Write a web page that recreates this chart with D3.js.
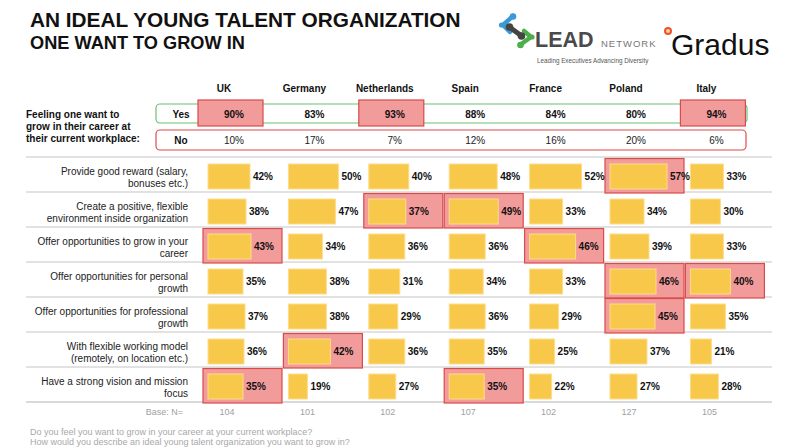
<!DOCTYPE html>
<html>
<head>
<meta charset="utf-8">
<script src="https://cdn.jsdelivr.net/npm/d3@7/dist/d3.min.js"></script>
<style>
  html, body { margin: 0; padding: 0; background: #fff; }
  svg { display: block; font-family: "Liberation Sans", Arial, Helvetica, sans-serif; }
</style>
</head>
<body>
<script>
// ---------- DATA ----------
const countries = ["UK", "Germany", "Netherlands", "Spain", "France", "Poland", "Italy"];
const yesValues = [90, 83, 93, 88, 84, 80, 94];
const noValues  = [10, 17, 7, 12, 16, 20, 6];
const yesHighlight = ["UK", "Netherlands", "Italy"];

const attributes = [
  ["Provide good reward (salary,", "bonuses etc.)"],
  ["Create a positive, flexible", "environment inside organization"],
  ["Offer opportunities to grow in your", "career"],
  ["Offer opportunities for personal", "growth"],
  ["Offer opportunities for professional", "growth"],
  ["With flexible working model", "(remotely, on location etc.)"],
  ["Have a strong vision and mission", "focus"]
];
// values per attribute row, in country order
const rewardValues       = [42, 50, 40, 48, 52, 57, 33];
const environmentValues  = [38, 47, 37, 49, 33, 34, 30];
const careerValues       = [43, 34, 36, 36, 46, 39, 33];
const personalValues     = [35, 38, 31, 34, 33, 46, 40];
const professionalValues = [37, 38, 29, 36, 29, 45, 35];
const flexibleValues     = [36, 42, 36, 35, 25, 37, 21];
const visionValues       = [35, 19, 27, 35, 22, 27, 28];
const rowValues = [rewardValues, environmentValues, careerValues, personalValues,
                   professionalValues, flexibleValues, visionValues];
// highlighted cells: [row index, country]
const highlights = [[0, "Poland"], [1, "Netherlands"], [1, "Spain"], [2, "UK"], [2, "France"],
                    [3, "Poland"], [3, "Italy"], [4, "Poland"], [5, "Germany"], [6, "UK"], [6, "Spain"]];
const baseN = [104, 101, 102, 107, 102, 127, 105];

// ---------- SETUP ----------
const W = 800, H = 448;
const svg = d3.select("body").append("svg").attr("width", W).attr("height", H);

const col = d3.scaleBand().domain(countries).range([203, 765.8]);
const row = d3.scaleBand().domain(d3.range(attributes.length)).range([157, 402]);
const len = d3.scaleLinear().domain([0, 100]).range([0, 100]);

const YELLOW = "#F8C84A", YELLOW_EDGE = "#FCDD8E";
const HL_FILL = "#F29B9B", HL_EDGE = "#D84A4C";

// ---------- TITLE ----------
svg.append("text").attr("x", 30).attr("y", 27).attr("font-size", 20.8).attr("font-weight", "bold")
  .attr("fill", "#111").text("AN IDEAL YOUNG TALENT ORGANIZATION");
svg.append("text").attr("x", 30).attr("y", 49).attr("font-size", 18.2).attr("font-weight", "bold")
  .attr("fill", "#111").text("ONE WANT TO GROW IN");

// ---------- LOGOS ----------
const logo = svg.append("g");
function arm(d, color) {
  logo.append("path").attr("d", d).attr("fill", "none")
    .attr("stroke", color).attr("stroke-width", 4.5).attr("stroke-linecap", "round").attr("stroke-linejoin", "round");
}
arm("M513,16 L503,25 L510,32", "#3A9AD9");
logo.append("circle").attr("cx", 513).attr("cy", 16.5).attr("r", 3.3).attr("fill", "#3A9AD9");
logo.append("circle").attr("cx", 501.5).attr("cy", 25).attr("r", 2.6).attr("fill", "#3A9AD9");
arm("M524,31 L531,37 L520,45", "#4BB04A");
logo.append("circle").attr("cx", 520.5).attr("cy", 45).attr("r", 3.3).attr("fill", "#4BB04A");
logo.append("circle").attr("cx", 532).attr("cy", 37).attr("r", 2.6).attr("fill", "#4BB04A");
logo.append("line").attr("x1", 510).attr("y1", 27.5).attr("x2", 521).attr("y2", 35.5)
  .attr("stroke", "#444").attr("stroke-width", 5).attr("stroke-linecap", "round");
logo.append("circle").attr("cx", 509.5).attr("cy", 27).attr("r", 3.8).attr("fill", "#444");
logo.append("circle").attr("cx", 521.5).attr("cy", 36).attr("r", 3.8).attr("fill", "#444");
logo.append("text").attr("x", 535).attr("y", 47).attr("font-size", 21.5).attr("font-weight", "bold")
  .attr("fill", "#4a4a4a").text("LEAD");
logo.append("text").attr("x", 601).attr("y", 47).attr("font-size", 9.5).attr("letter-spacing", 1)
  .attr("fill", "#777").text("NETWORK");
logo.append("text").attr("x", 537).attr("y", 63).attr("font-size", 6.3)
  .attr("fill", "#555").text("Leading Executives Advancing Diversity");
logo.append("circle").attr("cx", 668).attr("cy", 31).attr("r", 3)
  .attr("fill", "#FBD0A0").attr("stroke", "#F0502A").attr("stroke-width", 2);
logo.append("text").attr("x", 671).attr("y", 55).attr("font-size", 30)
  .attr("fill", "#111").text("Gradus");

// ---------- HEADER ----------
svg.append("g").selectAll("text").data(countries).join("text")
  .attr("x", d => col(d) + 21).attr("y", 92).attr("text-anchor", "middle")
  .attr("font-size", 10).attr("font-weight", "bold").attr("fill", "#111").text(d => d);

// left label
["Feeling one want to", "grow in their career at", "their current workplace:"].forEach((t, i) => {
  svg.append("text").attr("x", 26).attr("y", 117.5 + i * 12).attr("font-size", 10)
    .attr("font-weight", "bold").attr("fill", "#111").text(t);
});

// Yes / No frames
svg.append("rect").attr("x", 156).attr("y", 104).attr("width", 591).attr("height", 19).attr("rx", 4)
  .attr("fill", "none").attr("stroke", "#6CC070").attr("stroke-width", 1.2);
svg.append("rect").attr("x", 156).attr("y", 130).attr("width", 590).attr("height", 20).attr("rx", 4)
  .attr("fill", "none").attr("stroke", "#E04A4A").attr("stroke-width", 1.2);

svg.append("g").selectAll("rect").data(yesHighlight).join("rect")
  .attr("x", d => col(d) - 5).attr("y", 100).attr("width", 65).attr("height", 26)
  .attr("fill", HL_FILL).attr("stroke", HL_EDGE).attr("stroke-width", 1.2);

svg.append("text").attr("x", 181).attr("y", 117.5).attr("text-anchor", "middle")
  .attr("font-size", 10).attr("font-weight", "bold").attr("fill", "#111").text("Yes");
svg.append("text").attr("x", 181).attr("y", 143.5).attr("text-anchor", "middle")
  .attr("font-size", 10).attr("font-weight", "bold").attr("fill", "#111").text("No");

svg.append("g").selectAll("text").data(yesValues).join("text")
  .attr("x", (d, i) => col(countries[i]) + 31).attr("y", 117.5).attr("text-anchor", "middle")
  .attr("font-size", 10).attr("font-weight", "bold").attr("fill", "#111").text(d => d + "%");
svg.append("g").selectAll("text").data(noValues).join("text")
  .attr("x", (d, i) => col(countries[i]) + 31).attr("y", 143.5).attr("text-anchor", "middle")
  .attr("font-size", 10).attr("fill", "#222").text(d => d + "%");

// ---------- GRID LINES ----------
const lineYs = row.domain().map(r => row(r)).concat([row(attributes.length - 1) + row.step()]);
svg.append("g").selectAll("line").data(lineYs).join("line")
  .attr("x1", 26).attr("x2", 772).attr("y1", d => d).attr("y2", d => d)
  .attr("stroke", "#D9D9D9").attr("stroke-width", (d, i) => i === lineYs.length - 1 ? 2 : 1.3);

// ---------- HIGHLIGHT CELLS ----------
svg.append("g").selectAll("rect").data(highlights).join("rect")
  .attr("x", d => col(d[1])).attr("y", d => row(d[0]) + 1.5)
  .attr("width", 79).attr("height", row.step() - 0.5)
  .attr("fill", HL_FILL).attr("stroke", HL_EDGE).attr("stroke-width", 1.2);

// ---------- ROW LABELS ----------
const rl = svg.append("g");
attributes.forEach((lines, r) => {
  lines.forEach((t, j) => {
    rl.append("text").attr("x", 188).attr("y", row(r) + 17.5 + j * 12).attr("text-anchor", "end")
      .attr("font-size", 10).attr("fill", "#222").text(t);
  });
});

// ---------- BARS ----------
const cells = [];
rowValues.forEach((vals, r) => vals.forEach((v, i) => cells.push({ r, c: countries[i], v })));

svg.append("g").selectAll("rect").data(cells).join("rect")
  .attr("x", d => col(d.c) + 5).attr("y", d => row(d.r) + 7)
  .attr("width", d => len(d.v)).attr("height", 25)
  .attr("fill", YELLOW).attr("stroke", YELLOW_EDGE).attr("stroke-width", 1);

svg.append("g").selectAll("text").data(cells).join("text")
  .attr("x", d => col(d.c) + 5 + len(d.v) + 3).attr("y", d => row(d.r) + 23)
  .attr("font-size", 10).attr("font-weight", "bold").attr("fill", "#111").text(d => d.v + "%");

// ---------- BASE ----------
svg.append("text").attr("x", 183).attr("y", 415).attr("text-anchor", "end")
  .attr("font-size", 9).attr("fill", "#A0A0A0").text("Base: N=");
svg.append("g").selectAll("text").data(baseN).join("text")
  .attr("x", (d, i) => col(countries[i]) + 24).attr("y", 415).attr("text-anchor", "middle")
  .attr("font-size", 9).attr("fill", "#A0A0A0").text(d => d);

// ---------- FOOTER ----------
svg.append("text").attr("x", 30).attr("y", 435).attr("font-size", 9).attr("fill", "#A8A8A8")
  .text("Do you feel you want to grow in your career at your current workplace?");
svg.append("text").attr("x", 30).attr("y", 445).attr("font-size", 9).attr("fill", "#A8A8A8")
  .text("How would you describe an ideal young talent organization you want to grow in?");
</script>
</body>
</html>
